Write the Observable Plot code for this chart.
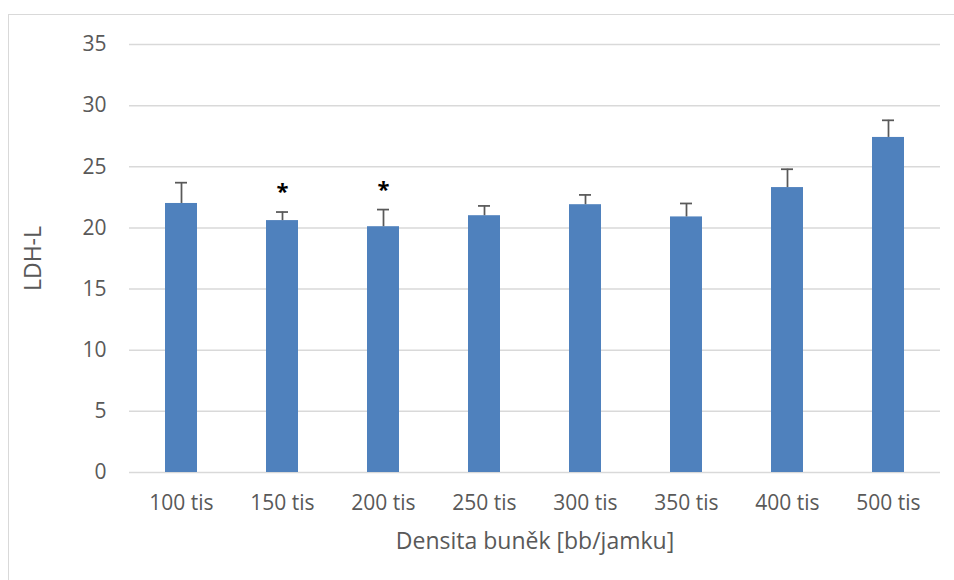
<!DOCTYPE html>
<html>
<head>
<meta charset="utf-8">
<script src="https://cdn.jsdelivr.net/npm/d3@7"></script>
<script src="https://cdn.jsdelivr.net/npm/@observablehq/plot@0.6"></script>
<style>
  html, body { margin: 0; padding: 0; background: #fff; overflow: hidden; }
  #wrap { position: relative; width: 954px; height: 580px; }
  #border { position: absolute; left: 8px; top: 14px; width: 1000px; height: 1000px; border: 1px solid #d9d9d9; box-sizing: border-box; pointer-events: none; }
  #chart { position: absolute; left: 0; top: 0; }
</style>
</head>
<body>
<div id="wrap"><div id="border"></div><div id="chart"></div></div>
<script>
const categories = ["100 tis", "150 tis", "200 tis", "250 tis", "300 tis", "350 tis", "400 tis", "500 tis"];
const values = [22.0, 20.6, 20.1, 21.0, 21.9, 20.9, 23.3, 27.4];
const errors = [1.7, 0.7, 1.4, 0.8, 0.8, 1.1, 1.5, 1.4];
const marks = ["", "*", "*", "", "", "", "", ""];
const yTicks = [0, 5, 10, 15, 20, 25, 30, 35];
const xTitle = "Densita buněk [bb/jamku]";
const yTitle = "LDH-L";

const data = categories.map((c, i) => ({cat: c, v: values[i], hi: values[i] + errors[i], m: marks[i]}));

const font = "'Open Sans', 'Noto Sans', sans-serif";
const plot = Plot.plot({
  width: 954,
  height: 580,
  marginLeft: 129,
  marginRight: 14,
  marginTop: 44,
  marginBottom: 108,
  style: {fontFamily: font, fontSize: "21px", color: "#595959", background: "transparent"},
  x: {domain: categories, paddingInner: 0.685, paddingOuter: 0.3425, label: null},
  y: {domain: [0, 35], label: null},
  marks: [
    Plot.ruleY(yTicks, {stroke: "#d9d9d9", strokeWidth: 1.5}),
    Plot.axisY({ticks: yTicks, tickSize: 0, tickPadding: 23, fontSize: 21, fill: "#595959", label: null}),
    Plot.axisX({tickSize: 0, tickPadding: 23, fontSize: 21, fill: "#595959", label: null}),
    Plot.barY(data, {x: "cat", y: "v", fill: "#4f81bd"}),
    Plot.ruleX(data, {x: "cat", y1: "v", y2: "hi", stroke: "#595959", strokeWidth: 1.75}),
    Plot.tickY(data, {x: "cat", y: "hi", stroke: "#595959", strokeWidth: 1.75, insetLeft: 10, insetRight: 10}),
    Plot.text(data, {x: "cat", y: "hi", text: "m", dy: -20, fontSize: 22, fontWeight: "bold", fill: "#000", lineAnchor: "middle"}),
    Plot.text([xTitle], {frameAnchor: "bottom", dy: 69, fontSize: 23, fill: "#595959", lineAnchor: "middle"}),
    Plot.text([yTitle], {frameAnchor: "left", dx: -96, rotate: -90, fontSize: 23, fill: "#595959", lineAnchor: "middle", textAnchor: "middle"})
  ]
});
document.getElementById("chart").appendChild(plot);
</script>
</body>
</html>
